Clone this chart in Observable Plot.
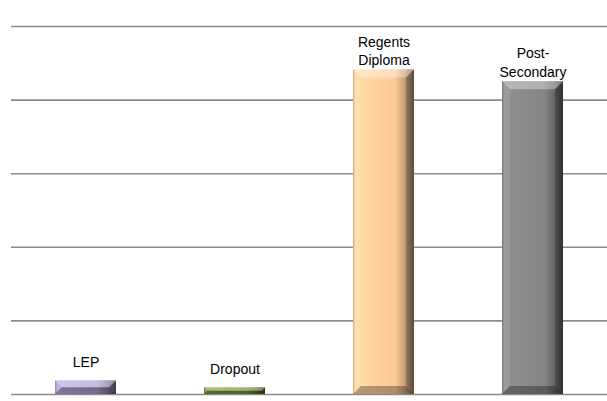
<!DOCTYPE html>
<html>
<head>
<meta charset="utf-8">
<script src="https://cdn.jsdelivr.net/npm/d3@7"></script>
<script src="https://cdn.jsdelivr.net/npm/@observablehq/plot@0.6"></script>
<style>
  html, body { margin: 0; padding: 0; background: #fff; }
  #chart { width: 607px; height: 401px; }
</style>
</head>
<body>
<div id="chart"></div>
<script>
const categories = ["LEP", "Dropout", "Regents\nDiploma", "Post-\nSecondary"];
const values = [3.7, 1.8, 88.2, 85.0];
const colors = ["#a899c9", "#6e8f3c", "#fdc997", "#858585"];
const yTicks = [0, 20, 40, 60, 80, 100];

const data = categories.map((c, i) => ({cat: c, value: values[i], i}));

const plot = Plot.plot({
  width: 607,
  height: 401,
  marginLeft: 11,
  marginRight: 0,
  marginTop: 26,
  marginBottom: 7,
  style: {fontFamily: "Liberation Sans, Arial, sans-serif", background: "#fff"},
  x: {domain: categories, paddingInner: 0.59, paddingOuter: 0.295, axis: null},
  y: {domain: [0, 100], axis: null},
  color: {type: "identity"},
  marks: [
    Plot.ruleY(yTicks, {stroke: "#8c8c8c", strokeWidth: 1.6}),
    Plot.barY(data, {x: "cat", y: "value", fill: d => `url(#grad${d.i})`, className: "bevelbars"}),
    Plot.text(data, {
      x: "cat", y: "value", text: "cat",
      dy: -20, lineAnchor: "middle", lineHeight: 1.35,
      fontSize: 14, fill: "#000"
    })
  ]
});

const svg = d3.select(plot);
const defs = svg.insert("defs", ":first-child");
colors.forEach((c, i) => {
  const base = d3.color(c);
  const g = defs.append("linearGradient").attr("id", `grad${i}`)
    .attr("x1", 0).attr("x2", 1).attr("y1", 0).attr("y2", 0);
  g.append("stop").attr("offset", 0).attr("stop-color", base.darker(0.6));
  g.append("stop").attr("offset", 0.04).attr("stop-color", base.brighter(0.25));
  g.append("stop").attr("offset", 0.3).attr("stop-color", base.brighter(0.15));
  g.append("stop").attr("offset", 0.7).attr("stop-color", base);
  g.append("stop").attr("offset", 0.85).attr("stop-color", base.darker(0.7));
  g.append("stop").attr("offset", 1).attr("stop-color", base.darker(2.2));
});

svg.selectAll("g.bevelbars rect").each(function() {
  const r = d3.select(this);
  const x = +r.attr("x"), y = +r.attr("y"), w = +r.attr("width"), h = +r.attr("height");
  const b = Math.min(8, h / 2, w / 2);
  const parent = d3.select(this.parentNode);
  const poly = (pts, fill, op) => parent.append("polygon")
    .attr("points", pts.map(p => p.join(",")).join(" "))
    .attr("fill", fill).attr("fill-opacity", op);
  poly([[x, y], [x + w, y], [x + w - b, y + b], [x + b, y + b]], "#fff", 0.35);
  poly([[x, y + h], [x + w, y + h], [x + w - b, y + h - b], [x + b, y + h - b]], "#000", 0.3);
  poly([[x, y], [x + b, y + b], [x + b, y + h - b], [x, y + h]], "#fff", 0.1);
  poly([[x + w, y], [x + w - b, y + b], [x + w - b, y + h - b], [x + w, y + h]], "#000", 0.2);
});

document.getElementById("chart").appendChild(plot);
</script>
</body>
</html>
